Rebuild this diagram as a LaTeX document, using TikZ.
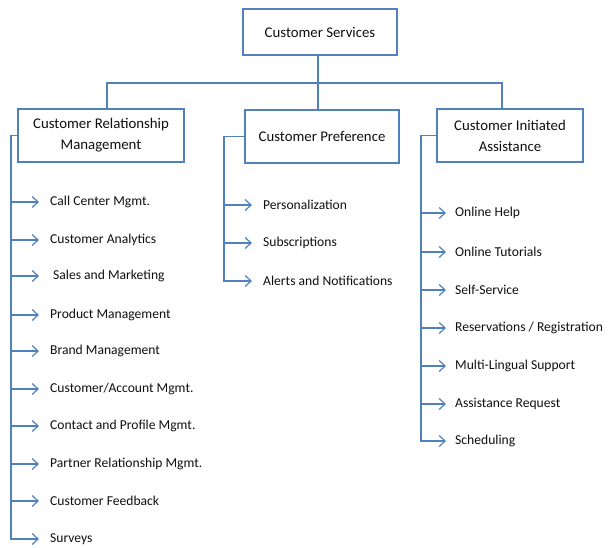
\documentclass[tikz,border=0pt]{standalone}
\usepackage{fontspec}
\setmainfont{Carlito}
\usetikzlibrary{arrows.meta, positioning}
\definecolor{boxblue}{RGB}{79,129,189}
\definecolor{textgray}{RGB}{15,15,15}

\begin{document}
\begin{tikzpicture}[x=1pt, y=-1pt,
        box/.style={rectangle, draw=boxblue, line width=2pt, fill=white, text=textgray, font=\fontsize{14.8}{21}\selectfont, align=center, inner sep=0pt},
        item/.style={anchor=west, inner sep=0pt, text=textgray, font=\fontsize{13.6}{16}\selectfont},
        link/.style={draw=boxblue, line width=1.2pt},
        arrow/.style={link, -{Straight Barb[length=6pt, width=11pt, line width=1.2pt]}, shorten >=11pt}
    ]
    \useasboundingbox (0,0) rectangle (611,547);

    % top level and its three groups
    \node (services) [box, minimum width=154pt, minimum height=46pt] at (320,32) {Customer Services};
    \node (crm) [box, minimum width=166pt, minimum height=53pt] at (101,135.5) {Customer Relationship\\Management};
    \node (pref) [box, minimum width=154pt, minimum height=53pt] at (322,136.5) {Customer Preference};
    \node (cia) [box, minimum width=146pt, minimum height=53pt] at (510,135.5) {Customer Initiated\\Assistance};

    \draw [link] ([xshift=-2pt]services.south) -- ++(0,27) -| ([xshift=6pt]crm.north);
    \draw [link] ([xshift=-2pt]services.south) -- ++(0,27) -| ([xshift=-4pt]pref.north);
    \draw [link] ([xshift=-2pt]services.south) -- ++(0,27) -| ([xshift=-8pt]cia.north);

    % customer relationship management
    \node (crm1) [item] at (50,202) {Call Center Mgmt.};
    \node (crm2) [item] at (50,240) {Customer Analytics};
    \node (crm3) [item] at (53,276) {Sales and Marketing};
    \node (crm4) [item] at (50,315) {Product Management};
    \node (crm5) [item] at (50,351) {Brand Management};
    \node (crm6) [item] at (50,389) {Customer/Account Mgmt.};
    \node (crm7) [item] at (50,426) {Contact and Profile Mgmt.};
    \node (crm8) [item] at (50,464) {Partner Relationship Mgmt.};
    \node (crm9) [item] at (50,501) {Customer Feedback};
    \node (crm10) [item] at (50,539) {Surveys};

    \draw [arrow] (crm.west) -- ++(-6,0) |- (crm1.west);
    \draw [arrow] (crm.west) -- ++(-6,0) |- (crm2.west);
    \draw [arrow, shorten >=14pt] (crm.west) -- ++(-6,0) |- (crm3.west);
    \draw [arrow] (crm.west) -- ++(-6,0) |- (crm4.west);
    \draw [arrow] (crm.west) -- ++(-6,0) |- (crm5.west);
    \draw [arrow] (crm.west) -- ++(-6,0) |- (crm6.west);
    \draw [arrow] (crm.west) -- ++(-6,0) |- (crm7.west);
    \draw [arrow] (crm.west) -- ++(-6,0) |- (crm8.west);
    \draw [arrow] (crm.west) -- ++(-6,0) |- (crm9.west);
    \draw [arrow] (crm.west) -- ++(-6,0) |- (crm10.west);

    % customer preference
    \node (pref1) [item] at (263,205) {Personalization};
    \node (pref2) [item] at (263,243) {Subscriptions};
    \node (pref3) [item] at (263,281) {Alerts and Notifications};

    \draw [arrow] (pref.west) -- ++(-20,0) |- (pref1.west);
    \draw [arrow] (pref.west) -- ++(-20,0) |- (pref2.west);
    \draw [arrow] (pref.west) -- ++(-20,0) |- (pref3.west);

    % customer initiated assistance
    \node (cia1) [item] at (455,213) {Online Help};
    \node (cia2) [item] at (455,252) {Online Tutorials};
    \node (cia3) [item] at (455,290) {Self-Service};
    \node (cia4) [item] at (455,328) {Reservations / Registration};
    \node (cia5) [item] at (455,366) {Multi-Lingual Support};
    \node (cia6) [item] at (455,404) {Assistance Request};
    \node (cia7) [item] at (455,441) {Scheduling};

    \draw [arrow, shorten >=9pt] (cia.west) -- ++(-15,0) |- (cia1.west);
    \draw [arrow, shorten >=9pt] (cia.west) -- ++(-15,0) |- (cia2.west);
    \draw [arrow, shorten >=9pt] (cia.west) -- ++(-15,0) |- (cia3.west);
    \draw [arrow, shorten >=9pt] (cia.west) -- ++(-15,0) |- (cia4.west);
    \draw [arrow, shorten >=9pt] (cia.west) -- ++(-15,0) |- (cia5.west);
    \draw [arrow, shorten >=9pt] (cia.west) -- ++(-15,0) |- (cia6.west);
    \draw [arrow, shorten >=9pt] (cia.west) -- ++(-15,0) |- (cia7.west);
\end{tikzpicture}
\end{document}
